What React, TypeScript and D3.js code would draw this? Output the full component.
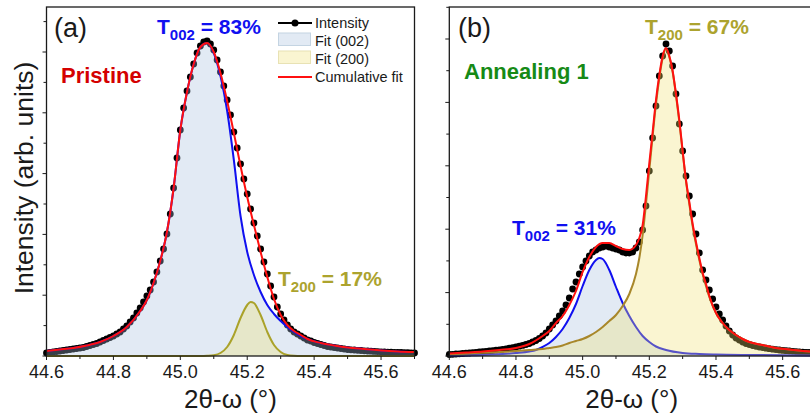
import React from "react";
import * as d3 from "d3";

const W = 810;
const H = 418;
const FONT = "'Liberation Sans', Arial, Helvetica, sans-serif";

// ---- axes ----
const X_DOMAIN: [number, number] = [44.6, 45.7];
const X_MAJOR = [44.6, 44.8, 45.0, 45.2, 45.4, 45.6];
const X_MINOR = [44.7, 44.9, 45.1, 45.3, 45.5, 45.7];
const Y_MAX = 349; // arbitrary intensity units
const SCAN_START = 44.6;
const SCAN_STEP = 0.01;

// ---- panel (a) Pristine ----
const A_INTENSITY = [
  3, 3.5, 4, 4.5, 5, 5.5, 6, 6.5, 7, 7.5,
  8, 8.5, 9.5, 10.5, 11.5, 12.5, 14, 15.5, 17, 18.5,
  20, 22, 24, 27, 30, 34, 38, 43, 48, 54,
  60, 66, 74, 84, 95, 107, 122, 142, 168, 198,
  226, 248, 265, 279, 292, 303, 310, 314, 315, 312,
  306, 296, 284, 270, 256, 241, 224, 208, 192, 177,
  162, 147, 133, 120, 107, 94, 82, 70, 59, 49,
  42, 36, 31, 27, 24, 22, 20, 18, 16, 15,
  13.5, 12.5, 11.5, 10.5, 9.5, 9, 8.5, 8, 7.5, 7,
  6.5, 6.2, 6, 5.7, 5.5, 5.2, 5, 4.8, 4.6, 4.4,
  4.2, 4, 3.9, 3.8, 3.7, 3.6, 3.5, 3.4, 3.3, 3.2, 3.1,
];
const A_FIT_X = [
  44.6, 44.64, 44.68, 44.72, 44.76, 44.8, 44.84, 44.88, 44.9, 44.92,
  44.94, 44.96, 44.98, 45.0, 45.02, 45.04, 45.06, 45.08, 45.1, 45.12,
  45.14, 45.16, 45.18, 45.2, 45.22, 45.24, 45.26, 45.28, 45.3, 45.32,
  45.34, 45.36, 45.38, 45.42, 45.46, 45.5, 45.55, 45.6, 45.65, 45.7,
];
const A_FIT_002 = [
  5, 6.5, 8, 10.5, 14, 20, 29, 45, 56, 73,
  95, 124, 168, 226, 264, 292, 309, 313, 303, 280,
  245, 196, 140, 104, 81, 64, 51, 42, 35, 29,
  24, 20, 17, 13, 10.5, 8.5, 7, 5.5, 4.5, 4,
];
const A_CUMULATIVE = [
  5, 6.5, 8, 10.5, 14, 20, 29, 45, 56, 73,
  95, 124, 168, 226, 264, 292, 309, 313, 304, 283,
  255, 223, 190, 159, 131, 104, 79, 57, 41, 31,
  25, 21, 17, 13, 10.5, 8.5, 7, 5.5, 4.5, 4,
];
const A_FIT200_X = [
  44.6, 45.0, 45.06, 45.08, 45.1, 45.12, 45.14, 45.16, 45.18, 45.2, 45.21,
  45.22, 45.24, 45.26, 45.28, 45.3, 45.32, 45.34, 45.36, 45.4, 45.7,
];
const A_FIT_200 = [
  0, 0, 0, 0.2, 0.8, 3, 9, 21, 38, 51, 54,
  53, 41, 24, 11, 4, 1, 0.2, 0, 0, 0,
];

// ---- panel (b) Annealing 1 ----
const B_INTENSITY = [
  1.5, 1.7, 2, 2.2, 2.5, 2.8, 3, 3.3, 3.6, 4,
  4.3, 4.6, 5, 5.4, 5.8, 6.2, 6.7, 7.2, 7.8, 8.4,
  9, 9.8, 10.6, 11.5, 12.5, 14, 15.5, 17.5, 20, 23,
  27, 31, 35, 40, 45, 51, 58, 67, 74, 82,
  89, 95, 100, 104, 106, 108, 109, 110, 109, 108,
  107, 106, 104, 103, 103, 104, 108, 114, 126, 150,
  185, 218, 250, 280, 300, 312, 305, 290, 262, 232,
  205, 180, 160, 142, 122, 103, 86, 76, 66, 57,
  49, 42, 36, 30, 25, 21, 18, 16, 14, 12.5,
  11.5, 10.5, 9.7, 9, 8.4, 7.8, 7.3, 6.8, 6.4, 6,
  5.6, 5.3, 5, 4.7, 4.4, 4.1, 3.9, 3.7, 3.5, 3.3, 3.1,
];
const B_FIT_X = [
  44.6, 44.65, 44.7, 44.75, 44.8, 44.84, 44.88, 44.9, 44.92, 44.94,
  44.96, 44.98, 45.0, 45.02, 45.04, 45.06, 45.08, 45.1, 45.12, 45.14,
  45.16, 45.17, 45.18, 45.19, 45.2, 45.21, 45.22, 45.23, 45.24, 45.25,
  45.26, 45.27, 45.28, 45.29, 45.3, 45.31, 45.32, 45.33, 45.34, 45.35,
  45.36, 45.37, 45.38, 45.4, 45.42, 45.44, 45.46, 45.48, 45.5, 45.54,
  45.58, 45.62, 45.66, 45.7,
];
const B_CUMULATIVE = [
  2.5, 3.5, 4.5, 6, 8, 12, 20, 25, 33, 40,
  51, 65, 84, 99, 109, 113, 113, 110, 107, 106,
  111, 118, 131, 160, 193, 224, 256, 281, 300, 308,
  300, 285, 262, 236, 205, 176, 154, 132, 114, 98,
  83, 72, 60, 43, 33, 26, 21, 17, 14, 11,
  8, 6.5, 5, 4,
];
const B_FIT_200 = [
  2, 2.5, 3.5, 4, 5, 6, 7, 8, 9, 10.5,
  13, 15, 17, 20, 24, 29, 35, 41, 50, 62,
  82, 98, 121, 152, 186, 220, 252, 278, 298, 307,
  299, 284, 261, 234, 204, 175, 152, 130, 112, 96,
  82, 70, 59, 43, 33, 26, 21, 17, 14, 11,
  8, 6.5, 5, 4,
];
const B_FIT002_X = [
  44.6, 44.7, 44.76, 44.8, 44.84, 44.86, 44.88, 44.9, 44.92, 44.94,
  44.96, 44.98, 45.0, 45.02, 45.04, 45.05, 45.06, 45.08, 45.1, 45.12,
  45.14, 45.16, 45.18, 45.2, 45.22, 45.25, 45.3, 45.35, 45.4, 45.5, 45.7,
];
const B_FIT_002 = [
  0.5, 1, 2, 3, 4.5, 6, 9, 13, 19, 27,
  38, 52, 70, 86, 96, 98, 97, 86, 69, 53,
  40, 29, 20, 14, 9.5, 6, 3, 2, 1.5, 1, 0.5,
];

// ---- colours ----
const BLUE = "#1010f0";
const RED = "#ff1010";
const OLIVE_A = "#aaa22a";
const OLIVE_B = "#a8872a";
const OLIVE_TEXT = "#aca32e";
const BLUE_FILL = "rgb(167,190,222)";
const YELLOW_FILL = "rgb(240,224,112)";
const BLUE_OP = 0.33;
const YELLOW_OP = 0.32;

const LEGEND_ITEMS = ["Intensity", "Fit (002)", "Fit (200)", "Cumulative fit"];

type PanelProps = {
  x0: number;
  x1: number;
  yStep: number;
  dots: number[];
  f002X: number[];
  f002: number[];
  f200X: number[];
  f200: number[];
  cumX: number[];
  cum: number[];
  olive: string;
};

const TOP = 7;
const BOTTOM = 356;

function Panel(p: PanelProps) {
  const x = d3.scaleLinear().domain(X_DOMAIN).range([p.x0, p.x1]);
  const y = d3.scaleLinear().domain([0, Y_MAX]).range([BOTTOM, TOP]);
  const curve = d3.curveMonotoneX;
  const area = (xs: number[], ys: number[]) =>
    d3
      .area<number>()
      .x((_, i) => x(xs[i]))
      .y0(y(0))
      .y1((d) => y(d))
      .curve(curve)(ys) || "";
  const line = (xs: number[], ys: number[]) =>
    d3
      .line<number>()
      .x((_, i) => x(xs[i]))
      .y((d) => y(d))
      .curve(curve)(ys) || "";
  const yTicks = d3.range(0, Y_MAX, p.yStep);
  return (
    <g>
      {/* data dots (beneath the translucent fills) */}
      {p.dots.map((v, i) => (
        <circle key={i} cx={x(SCAN_START + i * SCAN_STEP)} cy={y(v)} r={3.4} fill="#000" />
      ))}
      <path d={area(p.f002X, p.f002)} fill={BLUE_FILL} fillOpacity={BLUE_OP} />
      <path d={line(p.f002X, p.f002)} fill="none" stroke={BLUE} strokeWidth={2} />
      <path d={area(p.f200X, p.f200)} fill={YELLOW_FILL} fillOpacity={YELLOW_OP} />
      <path d={line(p.f200X, p.f200)} fill="none" stroke={p.olive} strokeWidth={2} />
      <path d={line(p.cumX, p.cum)} fill="none" stroke={RED} strokeWidth={2} />
      {/* frame */}
      <rect x={p.x0} y={TOP} width={p.x1 - p.x0} height={BOTTOM - TOP} fill="none" stroke="#1a1a1a" strokeWidth={1.3} />
      {/* y ticks */}
      {yTicks.map((t, i) => (
        <line key={"y" + i} x1={p.x0} x2={p.x0 - (i % 2 === 0 ? 4 : 3)} y1={y(t)} y2={y(t)} stroke="#1a1a1a" strokeWidth={1} />
      ))}
      {/* x ticks */}
      {X_MAJOR.map((t) => (
        <g key={"xm" + t}>
          <line x1={x(t)} x2={x(t)} y1={BOTTOM} y2={BOTTOM + 4} stroke="#1a1a1a" strokeWidth={1} />
          <text x={x(t)} y={378} textAnchor="middle" fontSize={18} fontFamily={FONT} fill="#1a1a1a">
            {d3.format(".1f")(t)}
          </text>
        </g>
      ))}
      {X_MINOR.map((t) => (
        <line key={"xn" + t} x1={x(t)} x2={x(t)} y1={BOTTOM} y2={BOTTOM + 3} stroke="#1a1a1a" strokeWidth={1} />
      ))}
      <text x={(p.x0 + Math.min(p.x1, 814)) / 2} y={408} textAnchor="middle" fontSize={26} fontFamily={FONT} fill="#1a1a1a">
        2θ-ω (°)
      </text>
    </g>
  );
}

function TLabel({ x, y, sub, rest, color }: { x: number; y: number; sub: string; rest: string; color: string }) {
  return (
    <text x={x} y={y} fontSize={21} fontWeight="bold" fontFamily={FONT} fill={color}>
      T
      <tspan fontSize={15} dy={6}>
        {sub}
      </tspan>
      <tspan dy={-6}>{rest}</tspan>
    </text>
  );
}

export default function App() {
  return (
    <div style={{ position: "absolute", left: 0, top: 0 }}>
      <svg width={W} height={H} style={{ display: "block", background: "#fff" }}>
        <rect width={W} height={H} fill="#fff" />
        <Panel
          x0={46.5}
          x1={414.5}
          yStep={30.4}
          dots={A_INTENSITY}
          f002X={A_FIT_X}
          f002={A_FIT_002}
          f200X={A_FIT200_X}
          f200={A_FIT_200}
          cumX={A_FIT_X}
          cum={A_CUMULATIVE}
          olive={OLIVE_A}
        />
        <Panel
          x0={449.3}
          x1={816}
          yStep={31.7}
          dots={B_INTENSITY}
          f002X={B_FIT002_X}
          f002={B_FIT_002}
          f200X={B_FIT_X}
          f200={B_FIT_200}
          cumX={B_FIT_X}
          cum={B_CUMULATIVE}
          olive={OLIVE_B}
        />
        {/* y axis title */}
        <text transform="translate(33,178) rotate(-90)" textAnchor="middle" fontSize={26.5} fontFamily={FONT} fill="#1a1a1a">
          Intensity (arb. units)
        </text>
        {/* panel labels */}
        <text x={54} y={37} fontSize={27} fontFamily={FONT} fill="#1a1a1a">(a)</text>
        <text x={458} y={37} fontSize={27} fontFamily={FONT} fill="#1a1a1a">(b)</text>
        <text x={61} y={83} fontSize={22} fontWeight="bold" fontFamily={FONT} fill="#d40000">Pristine</text>
        <text x={464} y={79} fontSize={22} fontWeight="bold" fontFamily={FONT} fill="#168a16">Annealing 1</text>
        <TLabel x={157} y={34} sub="002" rest=" = 83%" color={BLUE} />
        <TLabel x={278} y={286} sub="200" rest=" = 17%" color={OLIVE_TEXT} />
        <TLabel x={512} y={235} sub="002" rest=" = 31%" color={BLUE} />
        <TLabel x={645} y={34} sub="200" rest=" = 67%" color={OLIVE_TEXT} />
        {/* legend */}
        <g fontFamily={FONT} fontSize={14.5} fill="#1a1a1a">
          <line x1={278} x2={312} y1={23} y2={23} stroke="#000" strokeWidth={2} />
          <circle cx={295} cy={23} r={3.5} fill="#000" />
          <rect x={278.5} y={33} width={32} height={12.5} fill={BLUE_FILL} fillOpacity={BLUE_OP} stroke="#c4d4e2" strokeWidth={1} />
          <rect x={278.5} y={51} width={32} height={12.5} fill={YELLOW_FILL} fillOpacity={YELLOW_OP} stroke="#e8e2b4" strokeWidth={1} />
          <line x1={278} x2={312} y1={77} y2={77} stroke={RED} strokeWidth={2} />
          {LEGEND_ITEMS.map((t, i) => (
            <text key={t} x={315} y={28 + i * 18} fill="#1a1a1a">
              {t}
            </text>
          ))}
        </g>
      </svg>
    </div>
  );
}
